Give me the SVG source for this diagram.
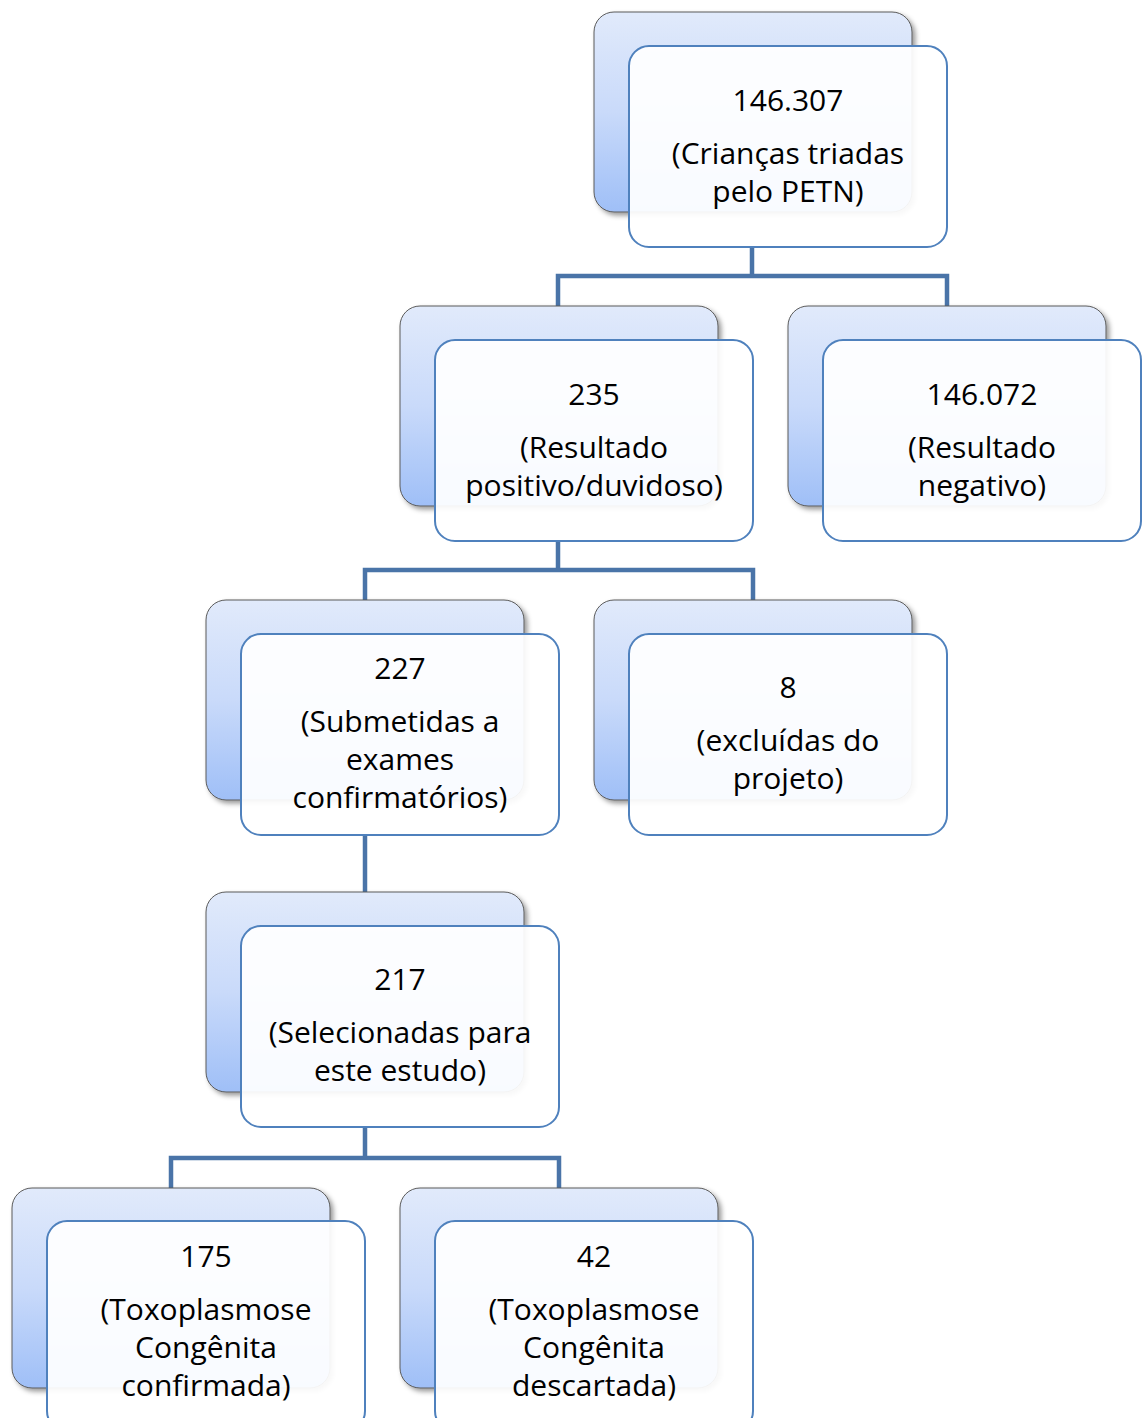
<svg xmlns="http://www.w3.org/2000/svg" width="1143" height="1418" viewBox="0 0 1143 1418">
<style>
.back{fill:url(#g);stroke:#5a5a5a;stroke-width:1;filter:url(#sh)}
.front{fill:#ffffff;fill-opacity:0.93;stroke:#4f81bd;stroke-width:2}
.conn{fill:none;stroke:#4a74a8;stroke-width:4.5}
text{font-family:"Open Sans","Liberation Sans",sans-serif;font-size:30px;fill:#000;text-anchor:middle}
</style>
<defs>
<linearGradient id="g" x1="0" y1="0" x2="0" y2="1">
<stop offset="0" stop-color="#e1eafb"/>
<stop offset="0.5" stop-color="#c9dafa"/>
<stop offset="1" stop-color="#9fbff7"/>
</linearGradient>
<filter id="sh" x="-10%" y="-10%" width="130%" height="130%">
<feDropShadow dx="3" dy="3" stdDeviation="2.5" flood-color="#000" flood-opacity="0.4"/>
</filter>
</defs>
<g id="connectors">
<path class="conn" d="M752 247V276M558 306V276H947V306"/>
<path class="conn" d="M558 541V570M365 600V570H753V600"/>
<path class="conn" d="M365 835V892"/>
<path class="conn" d="M365 1127V1158M171 1188V1158H559V1188"/>
</g>
<g id="n1">
<rect class="back" x="594" y="12" width="318" height="200" rx="20"/>
<rect class="front" x="629" y="46" width="318" height="201" rx="20"/>
<text x="788" y="111">146.307</text>
<text x="788" y="164">(Crianças triadas</text>
<text x="788" y="202">pelo PETN)</text>
</g>
<g id="n2">
<rect class="back" x="400" y="306" width="318" height="200" rx="20"/>
<rect class="front" x="435" y="340" width="318" height="201" rx="20"/>
<text x="594" y="405">235</text>
<text x="594" y="458">(Resultado</text>
<text x="594" y="496">positivo/duvidoso)</text>
</g>
<g id="n3">
<rect class="back" x="788" y="306" width="318" height="200" rx="20"/>
<rect class="front" x="823" y="340" width="318" height="201" rx="20"/>
<text x="982" y="405">146.072</text>
<text x="982" y="458">(Resultado</text>
<text x="982" y="496">negativo)</text>
</g>
<g id="n4">
<rect class="back" x="206" y="600" width="318" height="200" rx="20"/>
<rect class="front" x="241" y="634" width="318" height="201" rx="20"/>
<text x="400" y="679">227</text>
<text x="400" y="732">(Submetidas a</text>
<text x="400" y="770">exames</text>
<text x="400" y="808">confirmatórios)</text>
</g>
<g id="n5">
<rect class="back" x="594" y="600" width="318" height="200" rx="20"/>
<rect class="front" x="629" y="634" width="318" height="201" rx="20"/>
<text x="788" y="698">8</text>
<text x="788" y="751">(excluídas do</text>
<text x="788" y="789">projeto)</text>
</g>
<g id="n6">
<rect class="back" x="206" y="892" width="318" height="200" rx="20"/>
<rect class="front" x="241" y="926" width="318" height="201" rx="20"/>
<text x="400" y="990">217</text>
<text x="400" y="1043">(Selecionadas para</text>
<text x="400" y="1081">este estudo)</text>
</g>
<g id="n7">
<rect class="back" x="12" y="1188" width="318" height="200" rx="20"/>
<rect class="front" x="47" y="1221" width="318" height="210" rx="20"/>
<text x="206" y="1267">175</text>
<text x="206" y="1320">(Toxoplasmose</text>
<text x="206" y="1358">Congênita</text>
<text x="206" y="1396">confirmada)</text>
</g>
<g id="n8">
<rect class="back" x="400" y="1188" width="318" height="200" rx="20"/>
<rect class="front" x="435" y="1221" width="318" height="210" rx="20"/>
<text x="594" y="1267">42</text>
<text x="594" y="1320">(Toxoplasmose</text>
<text x="594" y="1358">Congênita</text>
<text x="594" y="1396">descartada)</text>
</g>
</svg>
